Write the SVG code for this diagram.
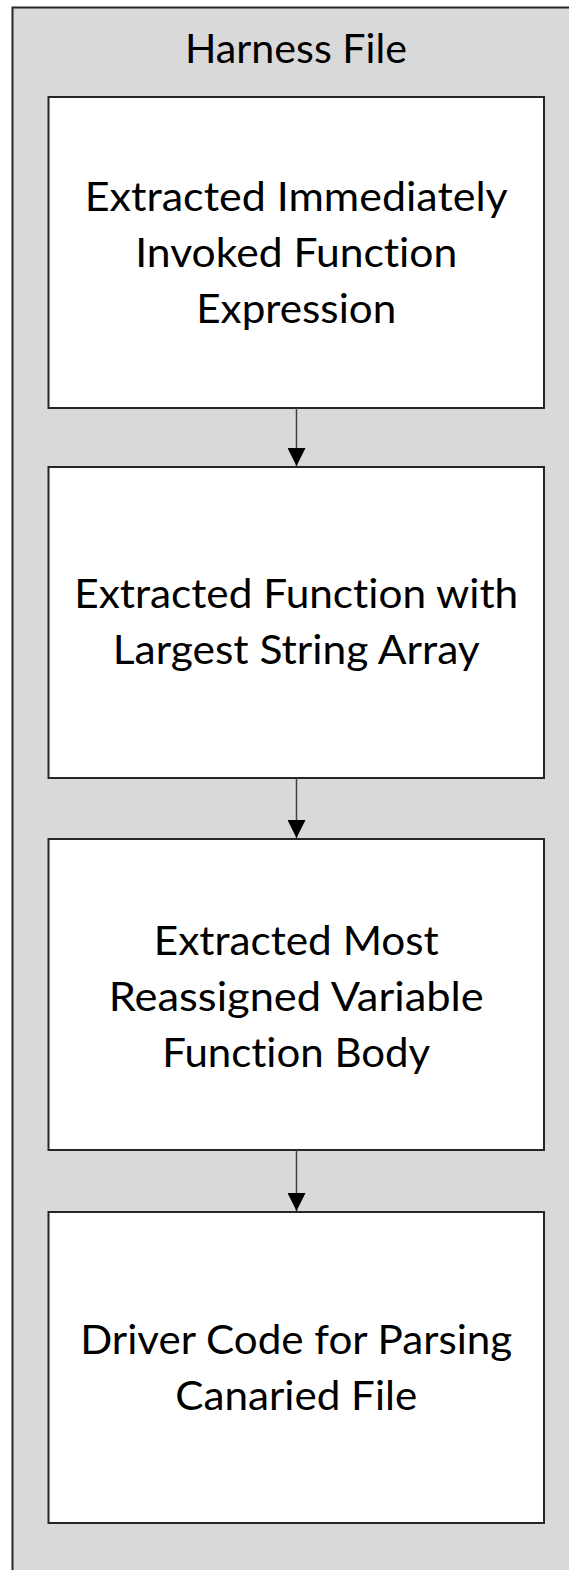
<svg xmlns="http://www.w3.org/2000/svg" width="569" height="1570" viewBox="0 0 569 1570">
  <style>
    .container { fill: #d9d9d9; stroke: #262626; stroke-width: 2; }
    .box { fill: #ffffff; stroke: #262626; stroke-width: 2; }
    .label { font-family: Lato, "Open Sans", sans-serif; font-size: 40px; fill: #000000; text-anchor: middle; font-variant-ligatures: none; font-feature-settings: "liga" 0, "clig" 0; }
    .title { font-family: Lato, "Open Sans", sans-serif; font-size: 41px; fill: #000000; text-anchor: middle; font-variant-ligatures: none; font-feature-settings: "liga" 0, "clig" 0; }
    .conn { stroke: #404040; stroke-width: 1.5; fill: none; }
  </style>
  <defs>
    <marker id="arrow" viewBox="0 0 18 18" refX="18" refY="9" markerWidth="18" markerHeight="18" markerUnits="userSpaceOnUse" orient="auto">
      <path d="M0,0 L18,9 L0,18 Z" fill="#000000"/>
    </marker>
  </defs>

  <g id="harness-file">
    <rect class="container" x="12.5" y="7.5" width="600" height="1600"/>
    <text class="title" x="296" y="62.5" textLength="222" lengthAdjust="spacingAndGlyphs">Harness File</text>
  </g>

  <g id="node-iife">
    <rect class="box" x="48.5" y="97" width="495.5" height="311"/>
    <text class="label" x="296.25" y="210.5" textLength="423" lengthAdjust="spacingAndGlyphs">Extracted Immediately</text>
    <text class="label" x="296.25" y="266.5" textLength="322" lengthAdjust="spacingAndGlyphs">Invoked Function</text>
    <text class="label" x="296.25" y="322.5" textLength="200" lengthAdjust="spacingAndGlyphs">Expression</text>
  </g>

  <g id="node-string-array">
    <rect class="box" x="48.5" y="467" width="495.5" height="311"/>
    <text class="label" x="296.25" y="608" textLength="444" lengthAdjust="spacingAndGlyphs">Extracted Function with</text>
    <text class="label" x="296.25" y="664" textLength="367" lengthAdjust="spacingAndGlyphs">Largest String Array</text>
  </g>

  <g id="node-reassigned">
    <rect class="box" x="48.5" y="839" width="495.5" height="311"/>
    <text class="label" x="296.25" y="954.5" textLength="285" lengthAdjust="spacingAndGlyphs">Extracted Most</text>
    <text class="label" x="296.25" y="1010.5" textLength="375" lengthAdjust="spacingAndGlyphs">Reassigned Variable</text>
    <text class="label" x="296.25" y="1066.5" textLength="268" lengthAdjust="spacingAndGlyphs">Function Body</text>
  </g>

  <g id="node-driver">
    <rect class="box" x="48.5" y="1212" width="495.5" height="311"/>
    <text class="label" x="296.25" y="1353.5" textLength="432" lengthAdjust="spacingAndGlyphs">Driver Code for Parsing</text>
    <text class="label" x="296.25" y="1409.5" textLength="242" lengthAdjust="spacingAndGlyphs">Canaried File</text>
  </g>

  <g id="connectors">
    <line class="conn" x1="296.5" y1="408" x2="296.5" y2="466" marker-end="url(#arrow)"/>
    <line class="conn" x1="296.5" y1="778" x2="296.5" y2="838" marker-end="url(#arrow)"/>
    <line class="conn" x1="296.5" y1="1150" x2="296.5" y2="1211" marker-end="url(#arrow)"/>
  </g>
</svg>
